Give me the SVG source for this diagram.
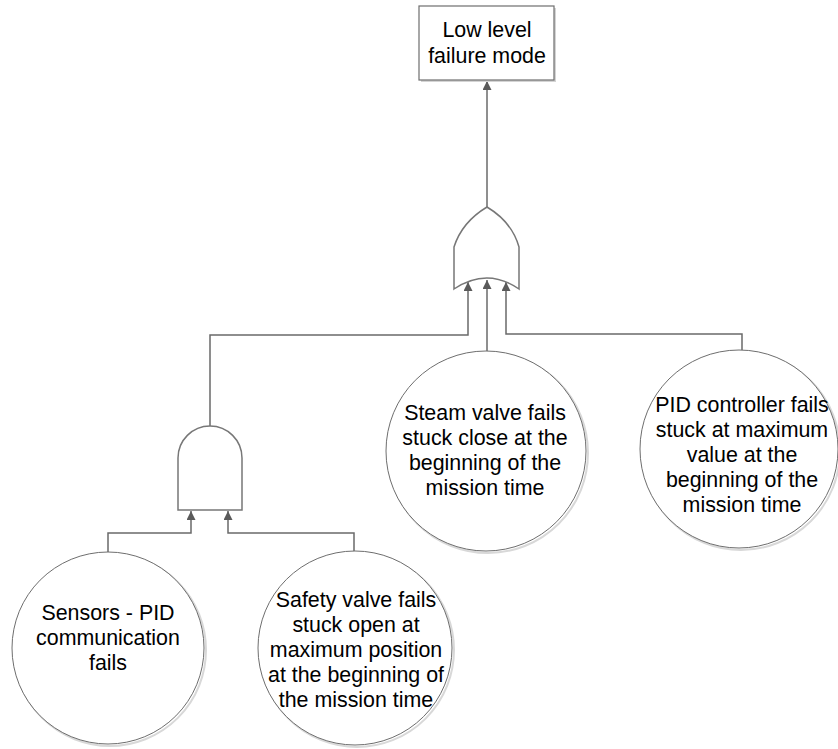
<svg xmlns="http://www.w3.org/2000/svg" width="838" height="749" viewBox="0 0 838 749">
<defs>
<marker id="arr" viewBox="0 0 10 10" refX="10" refY="5" markerWidth="10" markerHeight="9" markerUnits="userSpaceOnUse" orient="auto">
<path d="M0,0 L10,5 L0,10 z" fill="#5a5a5a"/>
</marker>
</defs>
<style>
.t{font-family:"Liberation Sans",Arial,sans-serif;font-size:21.4px;fill:#000;text-anchor:middle}
.c{fill:#fff;stroke:#6e6e6e;stroke-width:1}
.sh{fill:none;stroke:#d8d8d8;stroke-width:2}
.g{fill:#fff;stroke:#777;stroke-width:1.5}
.l{fill:none;stroke:#6a6a6a;stroke-width:1.5}
</style>
<rect width="838" height="749" fill="#fff"/>
<g id="connectors">
<path class="l" d="M487,207 L487,81" marker-end="url(#arr)"/>
<path class="l" d="M210,426 L210,335 L468,335 L468,282" marker-end="url(#arr)"/>
<path class="l" d="M487,352 L487,280" marker-end="url(#arr)"/>
<path class="l" d="M742,350 L742,334 L506,334 L506,282" marker-end="url(#arr)"/>
<path class="l" d="M108,552 L108,533 L191,533 L191,511" marker-end="url(#arr)"/>
<path class="l" d="M354,552 L354,533 L228,533 L228,511" marker-end="url(#arr)"/>
</g>
<g id="top">
<rect x="421" y="8" width="135" height="74" fill="#d4d4d4"/>
<rect x="419" y="6" width="135" height="74" fill="#fff" stroke="#6e6e6e" stroke-width="1.2"/>
<text class="t" x="487" y="37">Low level</text>
<text class="t" x="487" y="63">failure mode</text>
</g>
<g id="or-gate">
<path class="g" d="M454,289 L454,247 Q462,222 487,207 Q512,222 519,247 L519,289 Q487,267 454,289 Z"/>
</g>
<g id="and-gate">
<path class="g" d="M178,510 L178,458 A32,32 0 0 1 242,458 L242,510 Z"/>
</g>
<g id="steam">
<circle class="sh" cx="488" cy="453" r="100"/>
<circle class="c" cx="486" cy="451" r="100"/>
<text class="t" x="485" y="420">Steam valve fails</text>
<text class="t" x="485" y="445">stuck close at the</text>
<text class="t" x="485" y="470">beginning of the</text>
<text class="t" x="485" y="495">mission time</text>
</g>
<g id="pid">
<circle class="sh" cx="741" cy="451" r="99"/>
<circle class="c" cx="739" cy="449" r="99"/>
<text class="t" x="742" y="412">PID controller fails</text>
<text class="t" x="742" y="437">stuck at maximum</text>
<text class="t" x="742" y="462">value at the</text>
<text class="t" x="742" y="487">beginning of the</text>
<text class="t" x="742" y="512">mission time</text>
</g>
<g id="sensors">
<circle class="sh" cx="110" cy="650" r="96"/>
<circle class="c" cx="108" cy="648" r="96"/>
<text class="t" x="108" y="620">Sensors - PID</text>
<text class="t" x="108" y="645">communication</text>
<text class="t" x="108" y="670">fails</text>
</g>
<g id="safety">
<circle class="sh" cx="357" cy="650" r="97"/>
<circle class="c" cx="355" cy="648" r="97"/>
<text class="t" x="356" y="607">Safety valve fails</text>
<text class="t" x="356" y="632">stuck open at</text>
<text class="t" x="356" y="657">maximum position</text>
<text class="t" x="356" y="682">at the beginning of</text>
<text class="t" x="356" y="707">the mission time</text>
</g>
</svg>
